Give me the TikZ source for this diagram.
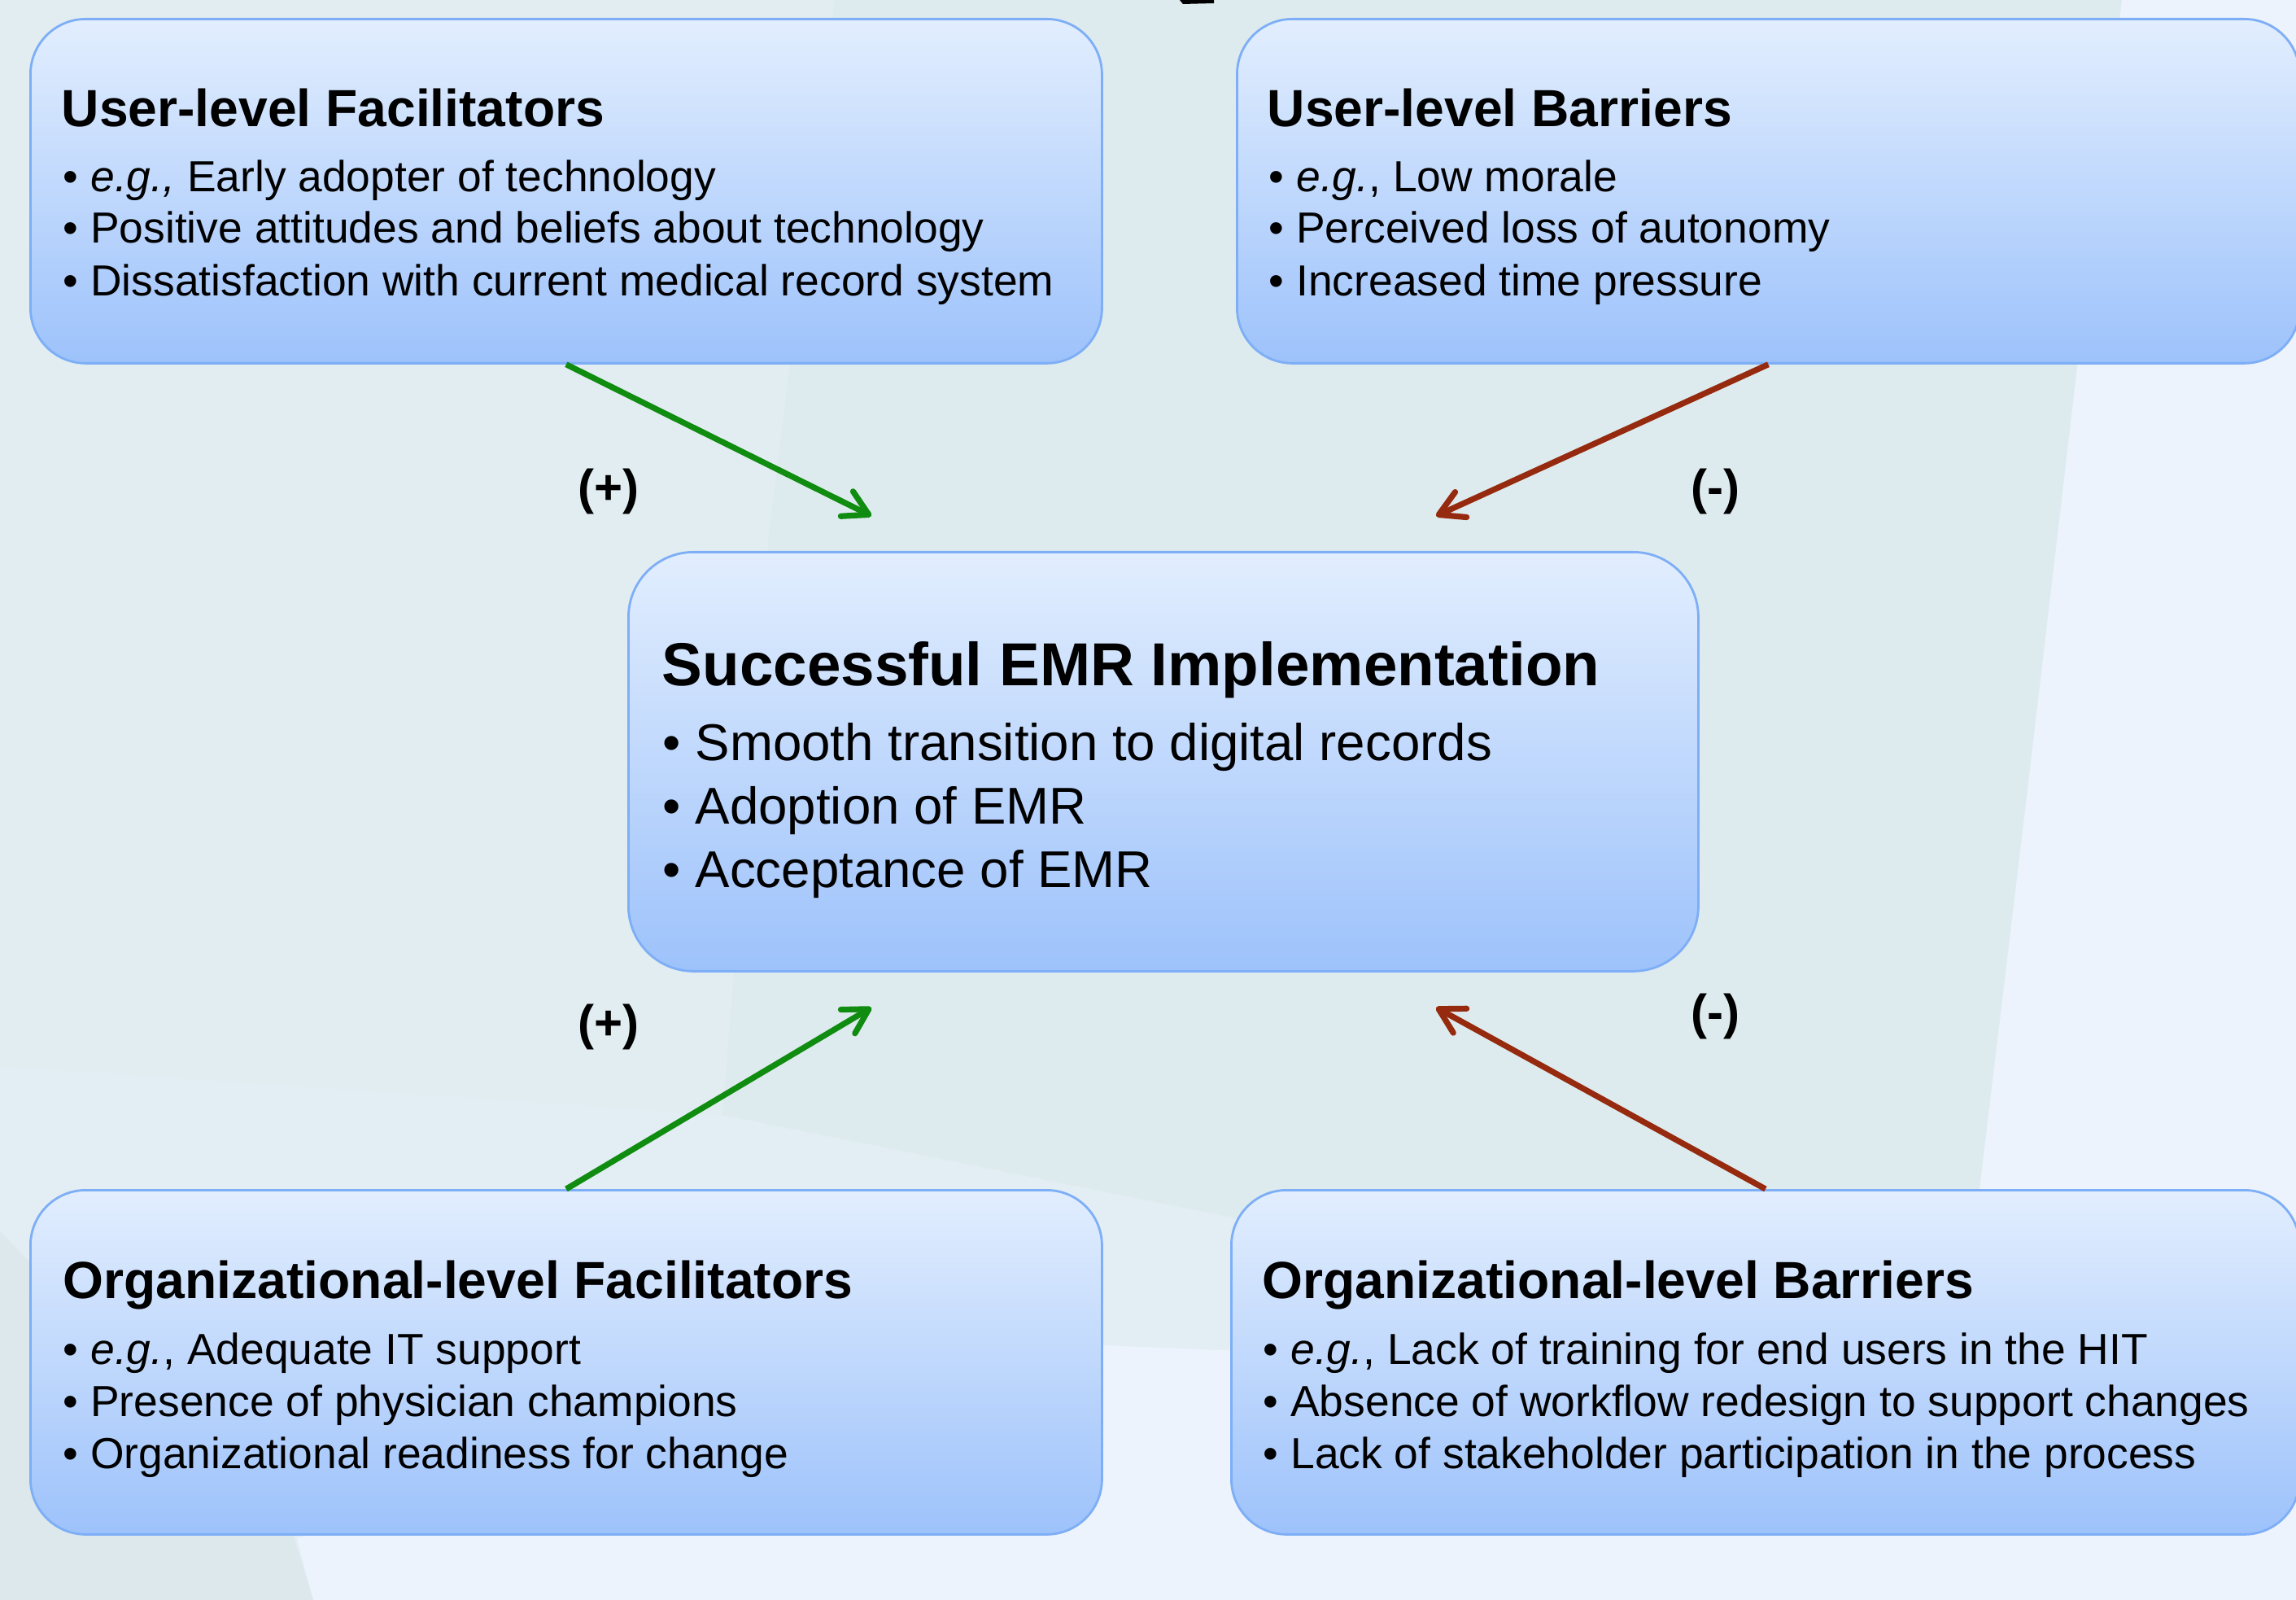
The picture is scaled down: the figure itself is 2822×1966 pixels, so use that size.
\documentclass[tikz,border=0pt]{standalone}
\usepackage{fontspec}
\setmainfont{Liberation Sans}
\usetikzlibrary{arrows.meta}
\definecolor{bgA}{HTML}{E2EDF2}
\definecolor{bgB}{HTML}{DEEBEE}
\definecolor{bgD}{HTML}{E3EEF4}
\definecolor{bgE}{HTML}{EDF3FC}
\definecolor{bgW}{HTML}{DCE8EC}
\definecolor{boxtop}{HTML}{E2EEFE}
\definecolor{boxbot}{HTML}{9DC2FB}
\definecolor{boxline}{HTML}{7DAEF6}
\definecolor{arrowgreen}{HTML}{108C10}
\definecolor{arrowred}{HTML}{962A0E}
\begin{document}
\begin{tikzpicture}[x=0.25pt,y=-0.25pt,
  box/.style={draw=boxline, line width=0.7pt, rounded corners=17pt, top color=boxtop, bottom color=boxbot, anchor=north west, inner sep=0pt},
  txt/.style={anchor=base west, inner sep=0pt},
  ttl/.style={txt, font=\fontsize{16.05pt}{19pt}\selectfont\bfseries},
  itm/.style={txt, font=\fontsize{13.35pt}{16pt}\selectfont},
  cttl/.style={txt, font=\fontsize{18.65pt}{22pt}\selectfont\bfseries},
  citm/.style={txt, font=\fontsize{15.9pt}{19pt}\selectfont},
  sign/.style={anchor=base, inner sep=0pt, font=\fontsize{15pt}{18pt}\selectfont\bfseries},
  posarrow/.style={draw=arrowgreen, line width=1.8pt, -{Straight Barb[length=7.5pt,width=8.5pt,round]}},
  negarrow/.style={draw=arrowred, line width=1.8pt, -{Straight Barb[length=7.5pt,width=8.5pt,round]}}
]
\useasboundingbox (0,0) rectangle (2822,1966);
% background
\fill[bgA] (0,0) rectangle (2822,1966);
\fill[bgD] (0,1310) -- (888,1370) -- (1600,1513) -- (2430,1680) -- (2430,1966) -- (0,1966) -- cycle;
\fill[bgB] (1026,0) -- (2608,0) -- (2554,444) -- (2491,980) -- (2433,1462) -- (2428,1680) -- (1600,1513) -- (888,1370) -- (945,656) -- cycle;
\fill[bgE] (2608,0) -- (2822,0) -- (2822,1966) -- (385,1966) -- (365,1890) -- (1352,1653) -- (1600,1663) -- (2428,1680) -- (2433,1462) -- (2491,980) -- (2554,444) -- cycle;
\fill[bgW] (0,1513) -- (360,1885) -- (385,1966) -- (0,1966) -- cycle;
% fragment at top edge
\fill[black] (1450,0) -- (1492,0) -- (1492,4) -- (1454,5) -- cycle;

% boxes
\node[box, minimum width=329.25pt, minimum height=105.75pt] (tlf) at (36,22) {};
\node[box, minimum width=326.5pt, minimum height=105.75pt] (tlb) at (1519,22) {};
\node[box, minimum width=328.75pt, minimum height=128.75pt, rounded corners=20pt] (ctr) at (771,677) {};
\node[box, minimum width=329.25pt, minimum height=105.75pt] (blf) at (36,1461) {};
\node[box, minimum width=328.25pt, minimum height=105.75pt] (blb) at (1512,1461) {};

% texts: user-level facilitators
\node[ttl] (tlf-t) at (75,156) {User-level Facilitators};
\node[itm] (tlf-1) at (77,236) {• \textit{e.g.,} Early adopter of technology};
\node[itm] (tlf-2) at (77,299) {• Positive attitudes and beliefs about technology};
\node[itm] (tlf-3) at (77,364) {• Dissatisfaction with current medical record system};
% user-level barriers
\node[ttl] (tlb-t) at (1557,156) {User-level Barriers};
\node[itm] (tlb-1) at (1559,236) {• \textit{e.g.}, Low morale};
\node[itm] (tlb-2) at (1559,299) {• Perceived loss of autonomy};
\node[itm] (tlb-3) at (1559,364) {• Increased time pressure};
% center
\node[cttl] (ctr-t) at (813,843) {Successful EMR Implementation};
\node[citm] (ctr-1) at (814,934) {• Smooth transition to digital records};
\node[citm] (ctr-2) at (814,1012) {• Adoption of EMR};
\node[citm] (ctr-3) at (814,1090) {• Acceptance of EMR};
% organizational facilitators
\node[ttl] (blf-t) at (77,1595) {Organizational-level Facilitators};
\node[itm] (blf-1) at (77,1676) {• \textit{e.g.}, Adequate IT support};
\node[itm] (blf-2) at (77,1740) {• Presence of physician champions};
\node[itm] (blf-3) at (77,1804) {• Organizational readiness for change};
% organizational barriers
\node[ttl] (blb-t) at (1551,1595) {Organizational-level Barriers};
\node[itm] (blb-1) at (1552,1676) {• \textit{e.g.}, Lack of training for end users in the HIT};
\node[itm] (blb-2) at (1552,1740) {• Absence of workflow redesign to support changes};
\node[itm] (blb-3) at (1552,1804) {• Lack of stakeholder participation in the process};

% arrow ends
\coordinate (tipTL) at (1071,634);
\coordinate (tipTR) at (1765,634);
\coordinate (tipBL) at (1071,1238);
\coordinate (tipBR) at (1765,1238);
\draw[posarrow] (tlf.south) -- (tipTL);
\draw[negarrow] (tlb.south) -- (tipTR);
\draw[posarrow] (blf.north) -- (tipBL);
\draw[negarrow] (blb.north) -- (tipBR);

% signs
\node[sign] (s1) at (748,620) {(+)};
\node[sign] (s2) at (2108,620) {(-)};
\node[sign] (s3) at (748,1277) {(+)};
\node[sign] (s4) at (2108,1264) {(-)};
\end{tikzpicture}
\end{document}
